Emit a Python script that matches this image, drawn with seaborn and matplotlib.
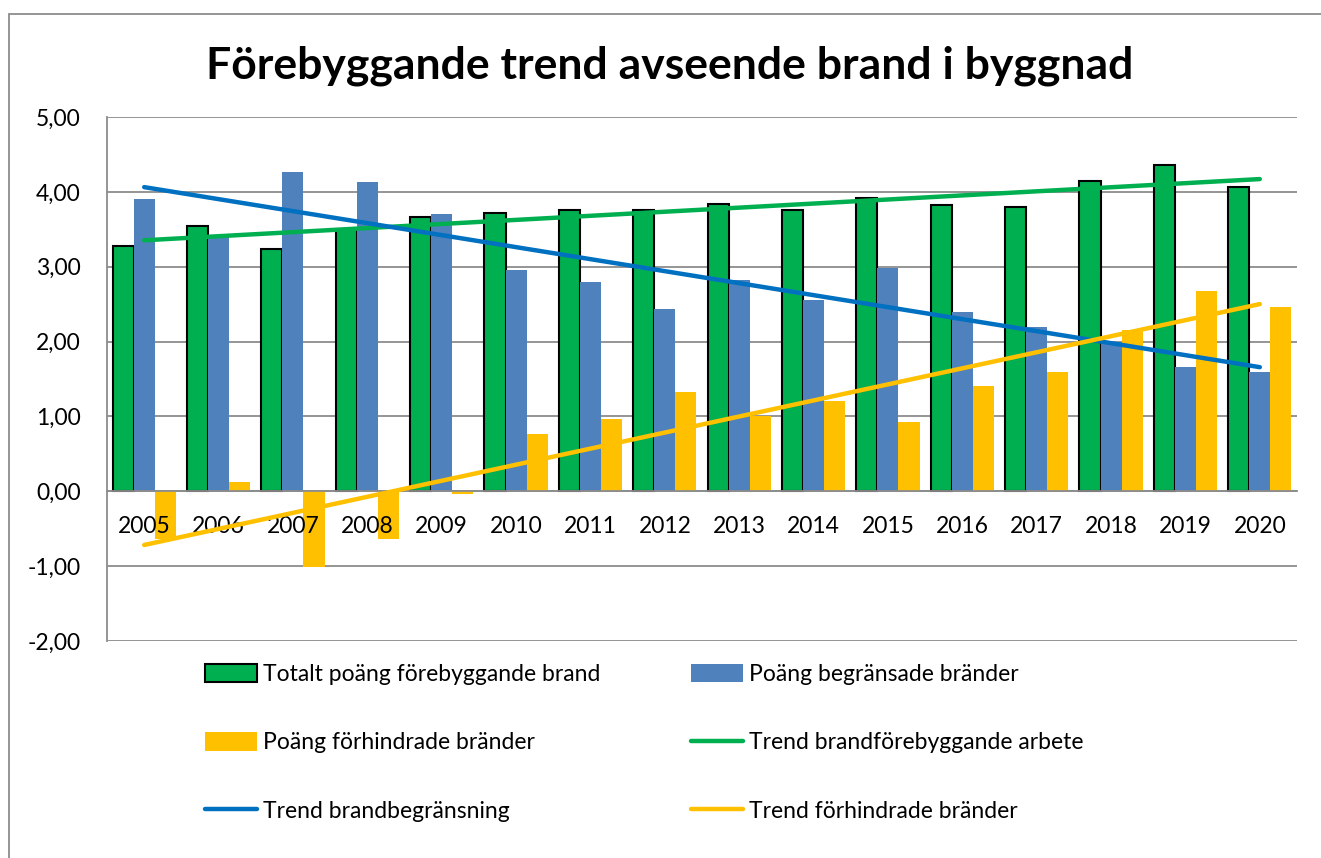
import numpy as np
import pandas as pd
import matplotlib
matplotlib.use("Agg")
import matplotlib.pyplot as plt
from matplotlib.ticker import FuncFormatter, FixedLocator
from matplotlib.patches import Rectangle
import seaborn as sns

years = [str(y) for y in range(2005, 2021)]
totalt = [3.28, 3.55, 3.24, 3.50, 3.67, 3.72, 3.76, 3.76, 3.84, 3.76, 3.92, 3.82, 3.80, 4.15, 4.36, 4.06]
begransade = [3.91, 3.40, 4.26, 4.13, 3.70, 2.95, 2.79, 2.44, 2.82, 2.55, 2.98, 2.40, 2.19, 2.00, 1.66, 1.59]
forhindrade = [-0.64, 0.12, -1.01, -0.64, -0.03, 0.76, 0.97, 1.32, 1.01, 1.20, 0.92, 1.40, 1.60, 2.15, 2.68, 2.46]
yticks = [-2, -1, 0, 1, 2, 3, 4, 5]

series_names = ["Totalt poäng förebyggande brand", "Poäng begränsade bränder", "Poäng förhindrade bränder"]
trend_names = ["Trend brandförebyggande arbete", "Trend brandbegränsning", "Trend förhindrade bränder"]
title = "Förebyggande trend avseende brand i byggnad"

bar_colors = ["#00B050", "#4F81BD", "#FFC000"]
trend_colors = ["#00B050", "#0070C0", "#FFC000"]

df = pd.DataFrame({
    "year": years * 3,
    "value": totalt + begransade + forhindrade,
    "series": [series_names[0]] * 16 + [series_names[1]] * 16 + [series_names[2]] * 16,
})

sns.set_style("white")
FONT = ["Lato", "DejaVu Sans"]
plt.rcParams["font.family"] = FONT
for k in ["text.color", "axes.labelcolor", "xtick.color", "ytick.color"]:
    plt.rcParams[k] = "black"

fig = plt.figure(figsize=(13.21, 8.58), dpi=100)
ax = fig.add_axes([107 / 1321, 1 - 641 / 858, (1297 - 107) / 1321, (641 - 117) / 858])

for yv in yticks:
    ax.axhline(yv, color="#8C8C8C", lw=1.3, zorder=0.5)

sns.barplot(data=df, x="year", y="value", hue="series", order=years, hue_order=series_names,
            palette=bar_colors, width=0.85, gap=0, saturation=1, legend=False, ax=ax, zorder=1)

# black edge on the green bars
for p in ax.containers[0].patches:
    p.set_edgecolor("black")
    p.set_linewidth(1.5)
for c in ax.containers[1:]:
    for p in c.patches:
        p.set_linewidth(0)

idx = np.arange(len(years))
trend_data = [totalt, begransade, forhindrade]
trend_lines = []
for vals, col, name in zip(trend_data, trend_colors, trend_names):
    sns.regplot(x=idx, y=np.array(vals), ci=None, scatter=False, truncate=True, ax=ax,
                line_kws=dict(color=col, lw=3.2, solid_capstyle="round", zorder=4))
    ln = ax.lines[-1]
    ln.set_label(name)
    trend_lines.append(ln)

ax.set_xlim(-0.5, len(years) - 0.5)
ax.set_ylim(-2, 5)
ax.yaxis.set_major_locator(FixedLocator(yticks))
ax.yaxis.set_major_formatter(FuncFormatter(lambda v, p: f"{v:.2f}".replace(".", ",")))
ax.grid(False)
ax.set_axisbelow(False)
ax.set_xlabel("")
ax.set_ylabel("")

for s in ["top", "right"]:
    ax.spines[s].set_visible(False)
ax.spines["left"].set_color("#8C8C8C")
ax.spines["left"].set_linewidth(1.3)
ax.spines["bottom"].set_position(("data", 0))
ax.spines["bottom"].set_color("#8C8C8C")
ax.spines["bottom"].set_linewidth(1.3)

ax.tick_params(axis="y", length=0, pad=19, labelsize=16.5, labelcolor="black")
ax.tick_params(axis="x", length=0, pad=18, labelsize=16.5, labelcolor="black")
ax.xaxis.set_zorder(3)

handles = [ax.containers[0], ax.containers[2], trend_lines[1],
           ax.containers[1], trend_lines[0], trend_lines[2]]
labels = [series_names[0], series_names[2], trend_names[1],
          series_names[1], trend_names[0], trend_names[2]]
leg = fig.legend(handles, labels, loc="upper left", bbox_to_anchor=(205 / 1321, 1 - 664 / 858),
                 ncol=2, frameon=False, fontsize=16.5, handlelength=2.27, handleheight=0.85,
                 handletextpad=0.26, columnspacing=3.95, labelspacing=2.06, borderpad=0, borderaxespad=0)

fig.text(670 / 1321, 1 - 66 / 858, title, ha="center", va="center", fontsize=32, fontweight="bold",
         family=FONT, color="black")

fig.patches.append(Rectangle((9 / 1321, -0.1), 1.5, (1 - 14 / 858) + 0.1, transform=fig.transFigure,
                             fill=False, edgecolor="#8C8C8C", lw=1.3))

fig.savefig("out.png", dpi=100)
